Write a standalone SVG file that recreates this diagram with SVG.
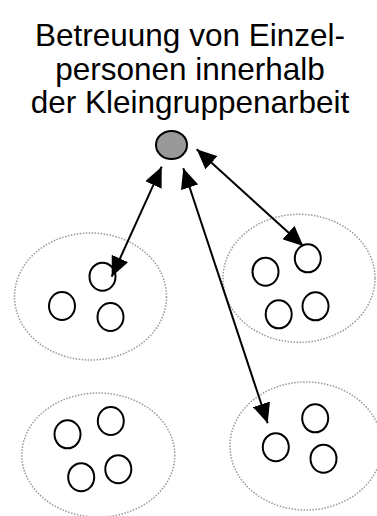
<svg xmlns="http://www.w3.org/2000/svg" width="377" height="516" viewBox="0 0 377 516">
  <style>
    .title { font-family: "Liberation Sans", Arial, sans-serif; font-size: 31.5px; fill: #000; text-anchor: middle; }
    .group { fill: none; stroke: #999; stroke-width: 1.5; stroke-dasharray: 1.5 1.5; }
    .person { fill: #fff; stroke: #000; stroke-width: 2; }
    .tutor { fill: #999; stroke: #000; stroke-width: 2; }
    .link { fill: none; stroke: #000; stroke-width: 2; marker-start: url(#head); marker-end: url(#head); }
  </style>
  <defs>
    <marker id="head" viewBox="0 0 20 18" refX="20" refY="9" markerWidth="20" markerHeight="18" markerUnits="userSpaceOnUse" orient="auto-start-reverse">
      <path d="M0,0 L20,9 L0,18 z" fill="#000"/>
    </marker>
  </defs>
  <rect width="377" height="516" fill="#fff"/>

  <g id="title">
    <text class="title" x="190" y="46">Betreuung von Einzel-</text>
    <text class="title" x="190" y="79.5">personen innerhalb</text>
    <text class="title" x="190" y="113">der Kleingruppenarbeit</text>
  </g>

  <!-- small groups (dotted outlines) with their members -->
  <g id="group-top-left">
    <ellipse class="group" cx="90.5" cy="296.5" rx="76" ry="63.5"/>
    <ellipse class="person" cx="102.5" cy="276.7" rx="13" ry="14"/>
    <ellipse class="person" cx="62" cy="306" rx="13" ry="14"/>
    <ellipse class="person" cx="110.5" cy="317" rx="13" ry="14"/>
  </g>
  <g id="group-top-right">
    <ellipse class="group" cx="299" cy="278.3" rx="76" ry="64"/>
    <ellipse class="person" cx="307.8" cy="258.3" rx="13" ry="14"/>
    <ellipse class="person" cx="265.5" cy="271.7" rx="13" ry="14"/>
    <ellipse class="person" cx="278.7" cy="314.3" rx="13" ry="14"/>
    <ellipse class="person" cx="315.5" cy="306.3" rx="13" ry="14"/>
  </g>
  <g id="group-bottom-left">
    <ellipse class="group" cx="98.3" cy="455" rx="76.5" ry="62"/>
    <ellipse class="person" cx="67.5" cy="434.3" rx="13" ry="14"/>
    <ellipse class="person" cx="110.8" cy="421" rx="13" ry="14"/>
    <ellipse class="person" cx="81.2" cy="477.2" rx="13" ry="14"/>
    <ellipse class="person" cx="118.3" cy="469.2" rx="13" ry="14"/>
  </g>
  <g id="group-bottom-right">
    <ellipse class="group" cx="306" cy="446" rx="76" ry="64"/>
    <ellipse class="person" cx="275.8" cy="447.2" rx="13" ry="14"/>
    <ellipse class="person" cx="315.2" cy="418.3" rx="13" ry="14"/>
    <ellipse class="person" cx="323.5" cy="458.7" rx="13" ry="14"/>
  </g>

  <!-- the person giving individual support -->
  <g id="tutor">
    <ellipse class="tutor" cx="171.5" cy="145" rx="15.5" ry="14"/>
  </g>

  <g id="connectors">
    <line class="link" x1="161.7" y1="166.7" x2="111.7" y2="276.7"/>
    <line class="link" x1="183.3" y1="168.3" x2="267.7" y2="423.3"/>
    <line class="link" x1="196.7" y1="149.3" x2="303.3" y2="246"/>
  </g>
</svg>
